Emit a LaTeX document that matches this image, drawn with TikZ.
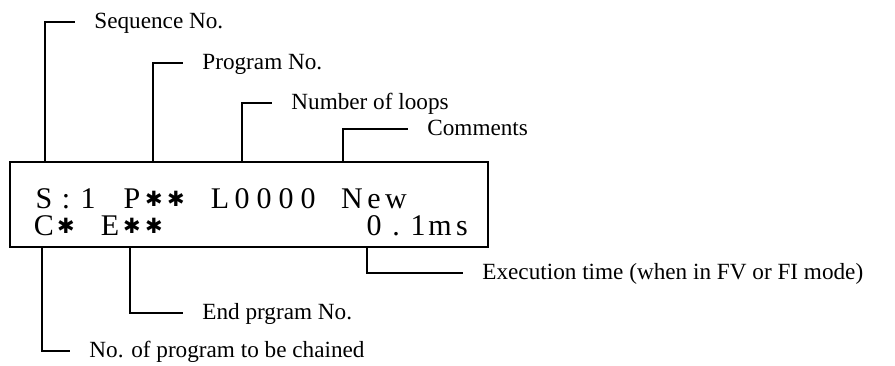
\documentclass[tikz,border=0pt]{standalone}
\usepackage{fontspec}
\setmainfont{Liberation Serif}
\newfontfamily\symfont{DejaVu Sans}
\tikzset{
  ldr/.style={line width=0.6pt},
  lbl/.style={anchor=west,inner xsep=9.5pt,inner ysep=0pt,text height=0.66em,text depth=0pt,font=\fontsize{11.6}{13}\selectfont},
  ch/.style={anchor=base,inner sep=0pt,font=\fontsize{15}{15}\selectfont},
  lcd/.style={draw,line width=0.6pt,minimum width=239pt,minimum height=42.5pt,inner sep=0pt}
}
\newcommand{\dstar}{\smash{\raisebox{0.6pt}{\symfont\fontsize{10.5}{10.5}\selectfont ✱}}}

\begin{document}
\begin{tikzpicture}[x=0.5pt,y=-0.5pt]
\useasboundingbox (0,0) rectangle (895,365);
% display
\node[lcd] (lcd) at (249,204.5) {};
\foreach \c/\t in {0/S,1/:,2/1,4/P,5/\dstar,6/\dstar,8/L,9/0,10/0,11/0,12/0,14/N,15/e,16/w}
  \node[ch] (ra\c) at (44+22*\c,208) {\t};
\foreach \c/\t in {0/C,1/\dstar,3/E,4/\dstar,5/\dstar,15/0,16/.,17/1,18/m,19/s}
  \node[ch] (rb\c) at (44+22*\c,235) {\t};
% labels
\node[lbl] (seq) at (75,22) {Sequence No.};
\node[lbl] (prog) at (183,63) {Program No.};
\node[lbl] (loops) at (272,103) {Number of loops};
\node[lbl] (cmt) at (408,129) {Comments};
\node[lbl] (exec) at (463,273) {Execution time (when in FV or FI mode)};
\node[lbl] (endp) at (183,313) {End prgram No.};
\node[lbl] (chain) at (70,351) {No. of program to be chained};
% leader feet
\coordinate (fseq) at (45,0);
\coordinate (fprog) at (153,0);
\coordinate (floops) at (242,0);
\coordinate (fcmt) at (343,0);
\coordinate (fexec) at (367,0);
\coordinate (fendp) at (130,0);
\coordinate (fchain) at (42,0);
\draw[ldr] (lcd.north -| fseq) |- (seq.west);
\draw[ldr] (lcd.north -| fprog) |- (prog.west);
\draw[ldr] (lcd.north -| floops) |- (loops.west);
\draw[ldr] (lcd.north -| fcmt) |- (cmt.west);
\draw[ldr] (lcd.south -| fexec) |- (exec.west);
\draw[ldr] (lcd.south -| fendp) |- (endp.west);
\draw[ldr] (lcd.south -| fchain) |- (chain.west);
\end{tikzpicture}
\end{document}
